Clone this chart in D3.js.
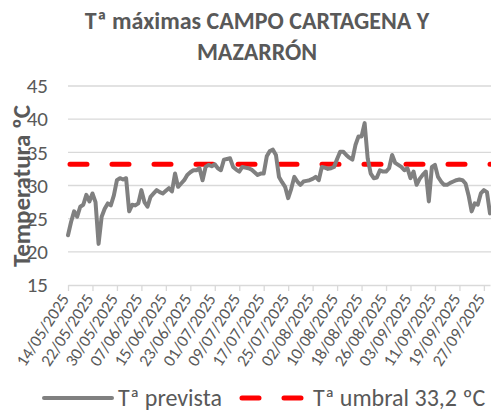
<!DOCTYPE html>
<html>
<head>
<meta charset="utf-8">
<script src="https://cdn.jsdelivr.net/npm/d3@7"></script>
<style>
  body { margin: 0; background: #fff; }
  svg { font-family: Carlito, Calibri, Lato, sans-serif; }
</style>
</head>
<body>
<svg id="chart" width="491" height="414"></svg>
<script>
// daily forecast max temperature, starting 14/05/2025
const startDate = '14/05/2025';
const tempPrevista = [
  22.5, 24.5, 26.1, 25.3, 26.8, 27.1, 28.6, 27.6, 28.8, 27.5,
  21.2, 25.3, 26.5, 27.3, 27.0, 28.5, 30.8, 31.1, 30.9, 31.1,
  26.1, 27.1, 27.0, 27.3, 29.3, 27.5, 26.8, 28.3, 28.8, 29.3,
  29.0, 28.8, 29.2, 29.6, 29.1, 31.8, 29.8, 30.3, 30.8, 31.6,
  32.0, 32.3, 32.3, 32.6, 30.8, 32.8, 33.1, 32.9, 33.2, 32.6,
  32.3, 33.9, 34.0, 34.1, 32.8, 32.4, 32.1, 32.8, 32.7, 32.6,
  32.4, 32.0, 31.6, 31.8, 31.8, 34.4, 35.2, 35.4, 34.6, 31.3,
  30.5, 29.8, 28.1, 29.5, 31.3, 30.6, 30.1, 30.6, 30.7, 30.8,
  31.0, 31.3, 30.8, 32.8, 32.7, 32.5, 32.6, 32.8, 34.0, 35.1,
  35.1, 34.6, 34.2, 33.9, 36.1, 37.4, 37.4, 39.4, 34.1, 31.8,
  31.1, 31.2, 32.3, 32.1, 32.1, 32.6, 34.6, 33.4, 33.1, 32.8,
  32.3, 32.6, 31.1, 32.1, 30.1, 31.0, 31.6, 32.1, 27.6, 32.8,
  33.1, 31.3, 30.6, 30.1, 30.1, 30.4, 30.6, 30.8, 30.9, 30.8,
  30.3, 28.5, 26.1, 27.3, 27.1, 28.8, 29.3, 29.0, 25.8
];
const umbral = 33.2;
const yTicks = [15, 20, 25, 30, 35, 40, 45];
const seriesNames = ['Tª prevista', 'Tª umbral 33,2 ºC'];
const titleLines = ['Tª máximas CAMPO CARTAGENA Y', 'MAZARRÓN'];

const parseDate = d3.timeParse('%d/%m/%Y');
const fmt = d3.timeFormat('%d/%m/%Y');
const start = parseDate(startDate);
const data = tempPrevista.map((v, i) => ({date: d3.timeDay.offset(start, i), value: v}));
const xTicks = d3.range(0, data.length, 8).map(i => data[i].date);

const svg = d3.select('#chart');
const margin = {top: 86, right: 0, bottom: 129, left: 68};
const width = 491 - margin.left - margin.right;
const height = 414 - margin.top - margin.bottom;

const x = d3.scaleTime()
  .domain([start, data[data.length - 1].date])
  .range([0, width - 1]);
const y = d3.scaleLinear().domain([15, 45]).range([height, 0]);

// title
svg.append('g')
  .selectAll('text')
  .data(titleLines)
  .join('text')
  .attr('x', 257)
  .attr('y', (d, i) => 29 + i * 31)
  .attr('text-anchor', 'middle')
  .attr('font-size', 24)
  .attr('font-weight', 'bold')
  .attr('fill', '#595959')
  .text(d => d);

const g = svg.append('g').attr('transform', `translate(${margin.left},${margin.top})`);

// gridlines
g.append('g')
  .selectAll('line')
  .data(yTicks.slice(1))
  .join('line')
  .attr('x1', 0)
  .attr('x2', width)
  .attr('y1', d => y(d))
  .attr('y2', d => y(d))
  .attr('stroke', '#d9d9d9')
  .attr('stroke-width', 1.3);

// y axis labels
g.append('g')
  .call(d3.axisLeft(y).tickValues(yTicks).tickSize(0).tickPadding(20))
  .call(s => s.select('.domain').remove())
  .selectAll('text')
  .attr('font-size', 21)
  .attr('font-family', 'Carlito, Calibri, Lato, sans-serif')
  .attr('fill', '#595959');

// x axis
const xAxis = g.append('g')
  .attr('transform', `translate(0,${height})`)
  .call(d3.axisBottom(x).tickValues(xTicks).tickFormat(fmt).tickSize(6).tickSizeOuter(0));
xAxis.select('.domain').attr('stroke', '#d9d9d9').attr('stroke-width', 1.3);
xAxis.selectAll('.tick line').attr('stroke', '#d9d9d9').attr('stroke-width', 1.3);
xAxis.selectAll('text')
  .attr('font-size', 17)
  .attr('font-family', 'Carlito, Calibri, Lato, sans-serif')
  .attr('fill', '#595959')
  .attr('text-anchor', 'end')
  .attr('x', 0)
  .attr('y', 0)
  .attr('dy', '0.3em')
  .attr('transform', 'translate(-3,11) rotate(-57)');

// threshold line
g.append('line')
  .attr('x1', 2)
  .attr('x2', width)
  .attr('y1', y(umbral))
  .attr('y2', y(umbral))
  .attr('stroke', '#ff0000')
  .attr('stroke-width', 5)
  .attr('stroke-linecap', 'round')
  .attr('stroke-dasharray', '17,25');

// forecast line
g.append('path')
  .datum(data)
  .attr('fill', 'none')
  .attr('stroke', '#808080')
  .attr('stroke-width', 4)
  .attr('stroke-linejoin', 'round')
  .attr('stroke-linecap', 'round')
  .attr('d', d3.line().x(d => x(d.date)).y(d => y(d.value)));

// y axis title
svg.append('text')
  .attr('transform', 'translate(30,186) rotate(-90)')
  .attr('text-anchor', 'middle')
  .attr('font-size', 25)
  .attr('font-weight', 'bold')
  .attr('fill', '#595959')
  .text('Temperatura ºC');

// legend
const legend = svg.append('g').attr('transform', 'translate(0,398)');
legend.append('line')
  .attr('x1', 44).attr('x2', 112)
  .attr('stroke', '#808080').attr('stroke-width', 4).attr('stroke-linecap', 'round');
legend.append('text')
  .attr('x', 118).attr('dy', '0.35em')
  .attr('font-size', 24).attr('fill', '#595959')
  .text(seriesNames[0]);
legend.append('line')
  .attr('x1', 242).attr('x2', 303)
  .attr('stroke', '#ff0000').attr('stroke-width', 5).attr('stroke-linecap', 'round')
  .attr('stroke-dasharray', '17,25');
legend.append('text')
  .attr('x', 313).attr('dy', '0.35em')
  .attr('font-size', 24).attr('fill', '#595959')
  .text(seriesNames[1]);
</script>
</body>
</html>
